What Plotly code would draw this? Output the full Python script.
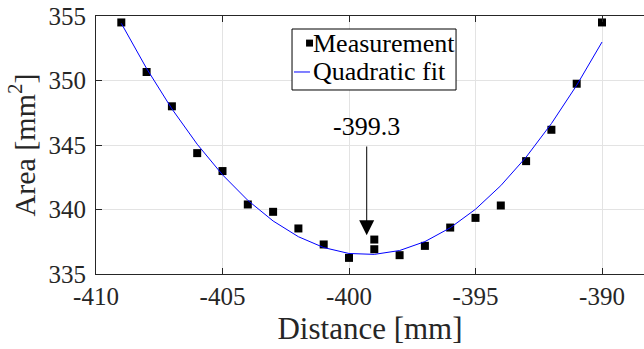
import plotly.graph_objects as go

# Measured points
distance = [-409, -408, -407, -406, -405, -404, -403, -402, -401, -400,
            -399, -399, -398, -397, -396, -395, -394, -393, -392, -391, -390]
area = [354.5, 350.66, 348.0, 344.37, 342.98, 340.39, 339.82, 338.53, 337.29, 336.25,
        337.67, 336.92, 336.46, 337.18, 338.6, 339.35, 340.31, 343.75, 346.18, 349.75, 354.5]

# Quadratic fit curve (read at integer distances)
fit_x = [-409, -408, -407, -406, -405, -404, -403, -402, -401, -400,
         -399, -398, -397, -396, -395, -394, -393, -392, -391, -390]
fit_y = [354.43, 350.93, 347.80, 345.06, 342.69, 340.71, 339.11, 337.89, 337.05, 336.59,
         336.52, 336.82, 337.51, 338.58, 340.02, 341.85, 344.06, 346.66, 349.63, 352.98]

vertex_x = -399.3
vertex_label = "-399.3"
arrow_tip_y = 338.0
arrow_tail_y = 345.0
label_y = 346.4

x_ticks = [-410, -405, -400, -395, -390]
y_ticks = [335, 340, 345, 350, 355]
legend_names = ["Measurement", "Quadratic fit"]

FONT = "Liberation Serif, DejaVu Serif, Times New Roman, serif"
TXT = "#262626"

fig = go.Figure()
fig.add_trace(go.Scatter(x=distance, y=area, mode="markers", name=legend_names[0],
                         marker=dict(symbol="square", size=8, color="black"),
                         showlegend=False))
fig.add_trace(go.Scatter(x=fit_x, y=fit_y, mode="lines", name=legend_names[1],
                         line=dict(color="#0000ff", width=1), showlegend=False))

# arrow and label
fig.add_annotation(x=vertex_x, y=arrow_tip_y, ax=vertex_x, ay=arrow_tail_y,
                   axref="x", ayref="y", xref="x", yref="y", text="",
                   showarrow=True, arrowhead=2, arrowsize=3, arrowwidth=1,
                   arrowcolor="black")
fig.add_annotation(x=vertex_x, y=label_y, xref="x", yref="y", text=vertex_label,
                   showarrow=False, font=dict(family=FONT, size=26, color="black"))

# Legend box drawn by hand (MATLAB-style compact legend)
X0, X1 = 0.3577, 0.657
Y0, Y1 = 0.7132, 0.9496
fig.add_shape(type="rect", xref="paper", yref="paper", x0=X0, x1=X1, y0=Y0, y1=Y1,
              line=dict(color="black", width=1), fillcolor="white", layer="above")
row1, row2 = 0.895, 0.783
# marker glyph
fig.add_shape(type="rect", xref="paper", yref="paper",
              x0=0.3833, x1=0.3960, y0=row1 - 0.0135, y1=row1 + 0.0135,
              line=dict(width=0), fillcolor="black", layer="above")
# line glyph
fig.add_shape(type="line", xref="paper", yref="paper",
              x0=0.3613, x1=0.3905, y0=row2, y1=row2,
              line=dict(color="#0000ff", width=1), layer="above")
for name, yy in zip(legend_names, [row1, row2]):
    fig.add_annotation(x=0.392, y=yy, xref="paper", yref="paper", text=name,
                       showarrow=False, xanchor="left", yanchor="middle",
                       font=dict(family=FONT, size=26, color="black"))

fig.update_layout(
    width=644, height=349,
    margin=dict(l=96, r=0, t=16, b=75),
    paper_bgcolor="white", plot_bgcolor="white",
    font=dict(family=FONT, size=25, color=TXT),
    showlegend=False,
    xaxis=dict(range=[-410, -388.34], tickvals=x_ticks,
               ticktext=[str(v) for v in x_ticks],
               showgrid=True, gridcolor="#e3e3e3", gridwidth=1,
               showline=True, linecolor="#262626", linewidth=1, mirror="ticks",
               ticks="inside", ticklen=6, tickcolor="#262626",
               zeroline=False, tickfont=dict(family=FONT, size=25, color=TXT),
               title=dict(text="Distance [mm]", font=dict(family=FONT, size=31, color=TXT), standoff=8)),
    yaxis=dict(range=[335, 355], tickvals=y_ticks,
               showgrid=True, gridcolor="#e3e3e3", gridwidth=1,
               showline=True, linecolor="#262626", linewidth=1, mirror=False,
               ticks="inside", ticklen=6, tickcolor="#262626",
               zeroline=False, ticklabelstandoff=4,
               tickfont=dict(family=FONT, size=25, color=TXT),
               title=dict(text="Area [mm<sup>2</sup>]", font=dict(family=FONT, size=30, color=TXT), standoff=4)),
)

fig.write_html("out.html")
